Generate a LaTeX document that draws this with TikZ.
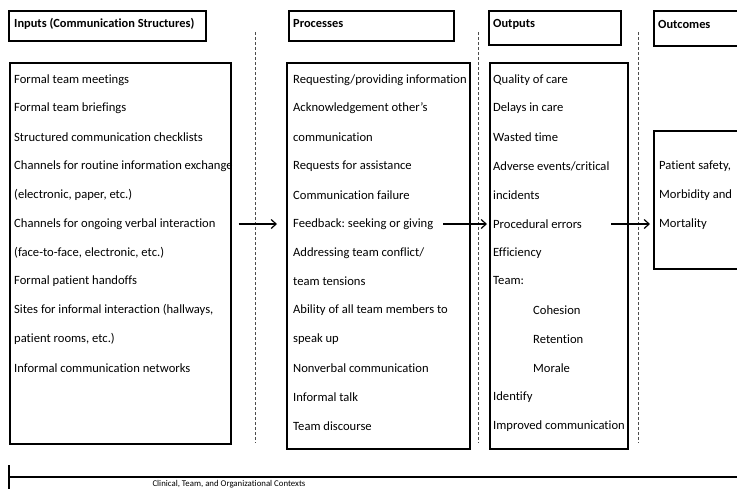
\documentclass[tikz,border=0pt]{standalone}
\usepackage{fontspec}
\setmainfont{Carlito}[Ligatures = NoCommon]
\usepackage{tikz}
\usetikzlibrary{arrows.meta}

\tikzset{
  item/.style = {anchor = west, inner sep = 0pt, font = \fontsize{12.6}{14}\selectfont},
  head/.style = {anchor = west, inner sep = 0pt, font = \fontsize{12.4}{14}\selectfont\bfseries},
  box/.style = {draw, line width = 1.5pt, anchor = north west, inner sep = 0pt},
  sep/.style = {dashed, dash pattern = on 3pt off 2pt, line width = 0.6pt, color = black!70},
  arr/.style = {line width = 1.2pt, -{Straight Barb[length = 5pt, width = 9pt, line width = 1.2pt]}}
}

\begin{document}
\frenchspacing
\begin{tikzpicture}[x = 1pt, y = -1pt]
  \useasboundingbox (0, 0) rectangle (737, 488);

  % headers
  \node[box, minimum width = 197, minimum height = 30] (inhead) at (8, 10) {};
  \node[box, minimum width = 165, minimum height = 30] (prochead) at (288, 10) {};
  \node[box, minimum width = 132, minimum height = 34] (outhead) at (488, 10) {};
  \node[box, minimum width = 95, minimum height = 35] (outchead) at (653, 10) {};
  \node[head] (inname) at (14, 24) {Inputs (Communication Structures)};
  \node[head] (procname) at (293, 24) {Processes};
  \node[head] (outname) at (493, 24) {Outputs};
  \node[head] (outcname) at (658, 24) {Outcomes};

  % boxes
  \node[box, minimum width = 221, minimum height = 381] (inbox) at (9, 62) {};
  \node[box, minimum width = 183, minimum height = 386] (procbox) at (286, 62) {};
  \node[box, minimum width = 138, minimum height = 386] (outbox) at (489, 62) {};
  \node[box, minimum width = 95, minimum height = 138] (outcbox) at (653, 130) {};

  % separators
  \draw[sep] (255, 32) -- (255, 443);
  \draw[sep] (478, 32) -- (478, 443);
  \draw[sep] (638, 32) -- (638, 443);

  % inputs
  \node[item] (in1) at (14, 80) {Formal team meetings};
  \node[item] (in2) at (14, 108) {Formal team briefings};
  \node[item] (in3) at (14, 137) {Structured communication checklists};
  \node[item] (in4) at (14, 166) {Channels for routine information exchange};
  \node[item] (in5) at (14, 195) {(electronic, paper, etc.)};
  \node[item] (in6) at (14, 224) {Channels for ongoing verbal interaction};
  \node[item] (in7) at (14, 253) {(face-to-face, electronic, etc.)};
  \node[item] (in8) at (14, 281) {Formal patient handoffs};
  \node[item] (in9) at (14, 310) {Sites for informal interaction (hallways,};
  \node[item] (in10) at (14, 339) {patient rooms, etc.)};
  \node[item] (in11) at (14, 368) {Informal communication networks};

  % processes
  \node[item] (pr1) at (293, 80) {Requesting/providing information};
  \node[item] (pr2) at (293, 108) {Acknowledgement other’s};
  \node[item] (pr3) at (293, 137) {communication};
  \node[item] (pr4) at (293, 166) {Requests for assistance};
  \node[item] (pr5) at (293, 195) {Communication failure};
  \node[item] (pr6) at (293, 224) {Feedback: seeking or giving};
  \node[item] (pr7) at (293, 253) {Addressing team conflict/};
  \node[item] (pr8) at (293, 281) {team tensions};
  \node[item] (pr9) at (293, 310) {Ability of all team members to};
  \node[item] (pr10) at (293, 339) {speak up};
  \node[item] (pr11) at (293, 368) {Nonverbal communication};
  \node[item] (pr12) at (293, 397) {Informal talk};
  \node[item] (pr13) at (293, 426) {Team discourse};

  % outputs
  \node[item] (out1) at (493, 80) {Quality of care};
  \node[item] (out2) at (493, 108) {Delays in care};
  \node[item] (out3) at (493, 137) {Wasted time};
  \node[item] (out4) at (493, 166) {Adverse events/critical};
  \node[item] (out5) at (493, 195) {incidents};
  \node[item] (out6) at (493, 224) {Procedural errors};
  \node[item] (out7) at (493, 253) {Efficiency};
  \node[item] (out8) at (493, 281) {Team:};
  \node[item] (out9) at (533, 310) {Cohesion};
  \node[item] (out10) at (533, 339) {Retention};
  \node[item] (out11) at (533, 368) {Morale};
  \node[item] (out12) at (493, 397) {Identify};
  \node[item] (out13) at (493, 426) {Improved communication};

  % outcomes
  \node[item] (oc1) at (659, 166) {Patient safety,};
  \node[item] (oc2) at (659, 195) {Morbidity and};
  \node[item] (oc3) at (659, 224) {Mortality};

  % arrows
  \draw[arr, shorten <= 7pt, shorten >= 9pt] (inbox.east |- in6.west) -- (procbox.west |- in6.west);
  \draw[arr, shorten <= 10pt, shorten >= 2pt] (pr6.east) -- (outbox.west |- pr6.east);
  \draw[arr, shorten <= 29pt, shorten >= 3pt] (out6.east) -- (outcbox.west |- out6.east);

  % context
  \draw[line width = 1.2pt] (9, 465) -- (9, 490);
  \draw[line width = 1.2pt] (9, 477) -- (740, 477);
  \node[inner sep = 0pt, font = \fontsize{8.8}{10}\selectfont] (ctx) at (229, 484) {Clinical, Team, and Organizational Contexts};
\end{tikzpicture}
\end{document}
